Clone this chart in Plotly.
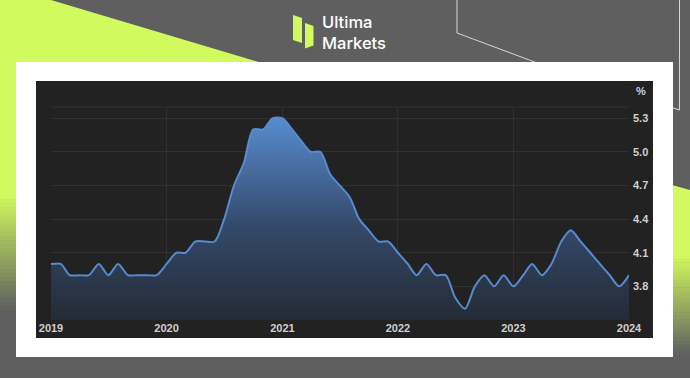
import pandas as pd
import plotly.graph_objects as go

# ---------------- data ----------------
start_month = "2019-01-01"
rate = [4.0, 4.0, 3.9, 3.9, 3.9, 4.0, 3.9, 4.0, 3.9, 3.9, 3.9, 3.9,
        4.0, 4.1, 4.1, 4.2, 4.2, 4.2, 4.4, 4.7, 4.9, 5.2, 5.2, 5.3,
        5.3, 5.2, 5.1, 5.0, 5.0, 4.8, 4.7, 4.6, 4.4, 4.3, 4.2, 4.2,
        4.1, 4.0, 3.9, 4.0, 3.9, 3.9, 3.7, 3.6, 3.8, 3.9, 3.8, 3.9,
        3.8, 3.9, 4.0, 3.9, 4.0, 4.2, 4.3, 4.2, 4.1, 4.0, 3.9, 3.8,
        3.9]
months = pd.date_range(start_month, periods=len(rate), freq="MS")

x_tick_vals = ["2019-01-01", "2020-01-01", "2021-01-01", "2022-01-01", "2023-01-01", "2024-01-01"]
x_tick_text = ["2019", "2020", "2021", "2022", "2023", "2024"]
y_tick_vals = [3.5, 3.8, 4.1, 4.4, 4.7, 5.0, 5.3]
y_tick_text = ["", "3.8", "4.1", "4.4", "4.7", "5.0", "5.3"]
unit_label = "%"
brand_lines = ["Ultima", "Markets"]

# ---------------- styling helpers ----------------
W, H = 690, 378
BG = "#5f5f5f"
LIME = "#d1fa5e"
DARK = "#222222"
GRID = "#303030"


def fx(x):
    return x / W


def fy(y):
    return 1 - y / H


def mix(c1, c2, t):
    a = [int(c1[i:i + 2], 16) for i in (1, 3, 5)]
    b = [int(c2[i:i + 2], 16) for i in (1, 3, 5)]
    return "#" + "".join(f"{round(a[k] + (b[k] - a[k]) * t):02x}" for k in range(3))


def poly(points, color, line=None):
    d = "M " + " L ".join(f"{fx(x):.5f},{fy(y):.5f}" for x, y in points) + " Z"
    return dict(type="path", xref="paper", yref="paper", path=d, fillcolor=color,
                line=dict(width=0) if line is None else line, layer="below")


shapes = []
# top-left lime wedge
shapes.append(poly([(0, 0), (51, 0), (262, 63), (262, 195), (0, 195)], LIME))
# left fade
n = 28
for i in range(n):
    y0 = 195 + i * (115 / n)
    y1 = y0 + 115 / n + 0.6
    shapes.append(poly([(0, y0), (20, y0), (20, y1), (0, y1)], mix(LIME, BG, (i + 0.5) / n)))
# right lime wedge
shapes.append(poly([(600, 165), (690, 190), (690, 255), (600, 255)], LIME))
for i in range(n):
    y0 = 255 + i * (100 / n)
    y1 = y0 + 100 / n + 0.6
    shapes.append(poly([(600, y0), (690, y0), (690, y1), (600, y1)], mix(LIME, BG, (i + 0.5) / n)))

# thin outline lines
thin = dict(color="#d8d8d8", width=1)
shapes.append(dict(type="path", xref="paper", yref="paper", layer="below",
                   path=f"M {fx(457):.5f},{fy(0):.5f} L {fx(457):.5f},{fy(33):.5f} L {fx(540):.5f},{fy(64):.5f}",
                   line=thin))
shapes.append(dict(type="path", xref="paper", yref="paper", layer="below",
                   path=f"M {fx(679.5):.5f},{fy(0):.5f} L {fx(679.5):.5f},{fy(110):.5f} L {fx(670):.5f},{fy(107):.5f}",
                   line=thin))

# white card and dark chart panel
shapes.append(poly([(16, 62), (673, 62), (673, 357), (16, 357)], "#ffffff"))
shapes.append(poly([(36, 81), (653, 81), (653, 338), (36, 338)], DARK))
# top border of plot
shapes.append(dict(type="line", xref="paper", yref="paper", layer="below",
                   x0=fx(51), x1=fx(629), y0=fy(107), y1=fy(107), line=dict(color=GRID, width=1)))

# logo icon
shapes.append(poly([(293, 15), (302, 18), (302, 43), (293, 40)], LIME))
shapes.append(poly([(305, 23), (313.5, 26), (313.5, 45.5), (305, 48.5)], LIME))

fig = go.Figure()
fig.add_trace(go.Scatter(
    x=months, y=rate, mode="lines",
    line=dict(color="#568bcd", width=2, shape="spline", smoothing=0.8),
    fill="tozeroy",
    fillgradient=dict(type="vertical",
                      colorscale=[[0, "#242b35"], [0.45, "#34496a"], [1, "#5a8fd4"]],
                      start=3.5, stop=5.35),
    hoverinfo="skip", showlegend=False,
))

tick_font = dict(family="Liberation Sans, Arial, sans-serif", size=11, color="#cfcfcf", weight="bold")

fig.update_layout(
    width=W, height=H,
    margin=dict(l=0, r=0, t=0, b=0),
    paper_bgcolor=BG,
    plot_bgcolor="rgba(0,0,0,0)",
    shapes=shapes,
    xaxis=dict(domain=[fx(51), fx(629)], range=["2019-01-01", "2024-01-01"],
               tickvals=x_tick_vals, ticktext=x_tick_text, tickfont=tick_font,
               showgrid=True, gridcolor=GRID, gridwidth=1, zeroline=False,
               showline=False, ticks="", automargin=False, fixedrange=True),
    yaxis=dict(domain=[fy(320), fy(107)], range=[3.5, 5.4], side="right",
               tickvals=y_tick_vals, ticktext=y_tick_text, tickfont=tick_font,
               showgrid=True, gridcolor=GRID, gridwidth=1, zeroline=False,
               showline=False, ticks="", automargin=False, fixedrange=True,
               ticklabelstandoff=3),
    annotations=[
        dict(text=unit_label, xref="paper", yref="paper", x=fx(641), y=fy(91),
             showarrow=False, xanchor="center", yanchor="middle", font=tick_font),
        dict(text="<br>".join(brand_lines), xref="paper", yref="paper", x=fx(320), y=fy(32),
             showarrow=False, xanchor="left", yanchor="middle", align="left",
             font=dict(family="Inter, sans-serif", size=16.5, color="#ffffff", weight=500)),
    ],
)

fig.write_html("out.html", config={"displayModeBar": False},
               post_script="document.body.style.margin='0';document.body.style.overflow='hidden';")
